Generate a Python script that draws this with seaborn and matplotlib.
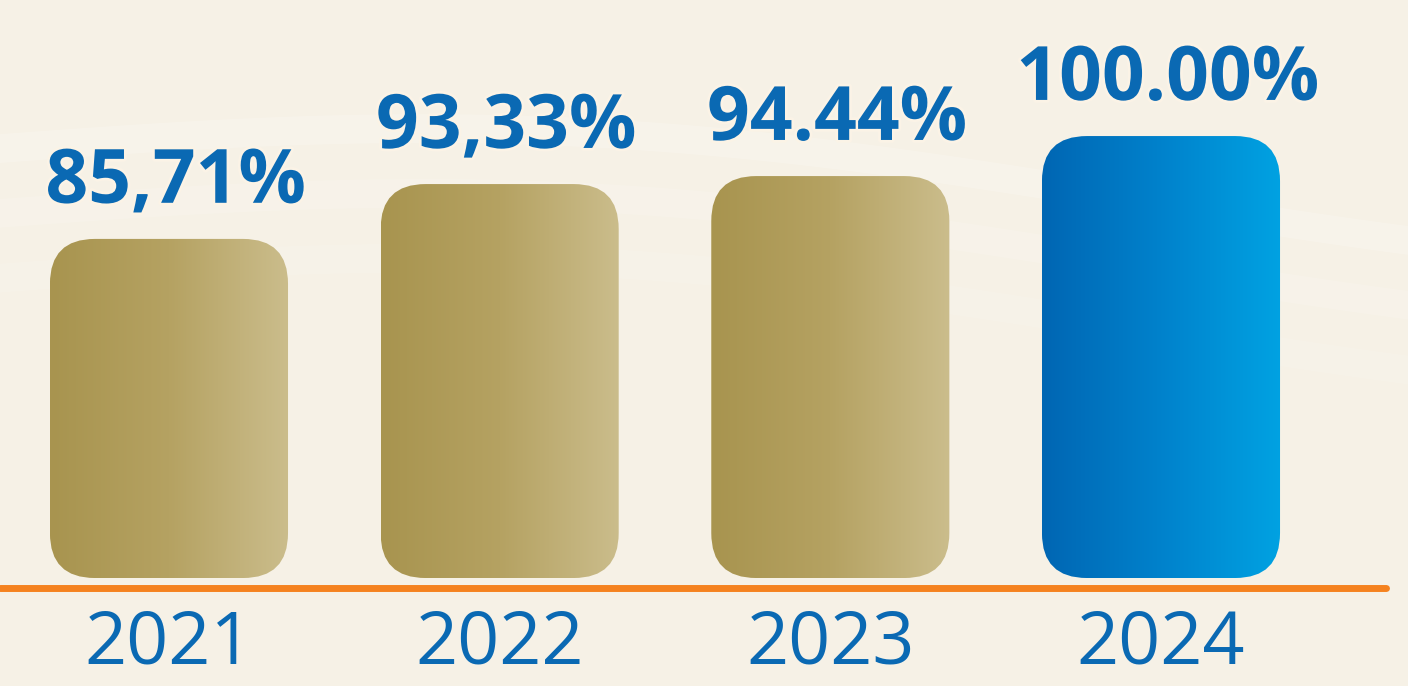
import numpy as np
import pandas as pd
import matplotlib
matplotlib.use("Agg")
import matplotlib.pyplot as plt
import matplotlib.patheffects as pe
from matplotlib.patches import FancyBboxPatch
from matplotlib.colors import LinearSegmentedColormap
import seaborn as sns

# dados
anos = ['2021', '2022', '2023', '2024']
valores = [85.71, 93.33, 94.44, 100.00]
rotulos = ['85,71%', '93,33%', '94.44%', '100.00%']

# cores
fundo = '#f6f1e6'
azul_txt = '#0a69b3'
laranja = '#f5821f'
cmap_ouro = LinearSegmentedColormap.from_list('ouro', ['#a8944f', '#b5a262', '#cbbd8c'])
cmap_azul = LinearSegmentedColormap.from_list('azul', ['#0066b3', '#0082cc', '#00a2e2'])

sns.set_theme(style='white')
plt.rcParams['font.family'] = ['Open Sans', 'DejaVu Sans']

fig = plt.figure(figsize=(14.08, 6.86), dpi=100, facecolor=fundo)
ax = fig.add_axes([0, 0, 1, 1])
ax.set_facecolor(fundo)

df = pd.DataFrame({'ano': anos, 'valor': valores})
sns.barplot(data=df, x='ano', y='valor', ax=ax, width=0.72, color='#b5a262')

# escala: base das barras fica acima do zero (como no original)
base = 38.6
ax.set_xlim(-0.511, 3.747)
ax.set_ylim(23.6, 118.9)
ax.axis('off')

# fundo com faixas suaves
xs = np.linspace(-0.511, 3.747, 200)
for off, a in [(0, 0.18), (9, 0.12), (18, 0.1)]:
    y1 = 95 - off + 6 * np.sin(xs * 0.9 + 0.5) - xs * 2
    ax.fill_between(xs, y1, y1 + 4, color='white', alpha=a, lw=0, zorder=0)

px_x = 1408 / (3.747 + 0.511)
px_y = 686 / (118.9 - 23.6)
aspect = px_x / px_y
raio = 45 / px_x

grad = np.linspace(0, 1, 256).reshape(1, -1)
barras = list(ax.patches)
for i, p in enumerate(barras):
    x0, w, h = p.get_x(), p.get_width(), p.get_height()
    p.remove()
    caixa = FancyBboxPatch((x0, base), w, h - base,
                           boxstyle=f'round,pad=0,rounding_size={raio}',
                           mutation_aspect=aspect, fc='none', ec='none', zorder=2)
    ax.add_patch(caixa)
    cm = cmap_azul if i == len(barras) - 1 else cmap_ouro
    im = ax.imshow(grad, cmap=cm, aspect='auto', extent=[x0, x0 + w, base, h],
                   zorder=2, interpolation='bicubic')
    im.set_clip_path(caixa)
    ax.annotate(rotulos[i], (x0 + w / 2 + 0.02, h), xytext=(0, 26), textcoords='offset points',
                ha='center', va='baseline', fontsize=54, fontweight='bold', color=azul_txt,
                zorder=3, path_effects=[pe.withStroke(linewidth=4, foreground='#fbf3e6')])
    ax.text(x0 + w / 2, 29.3, anos[i], ha='center', va='center', fontsize=53,
            color=azul_txt, zorder=3)

# linha laranja
ax.plot([-0.511, 3.68], [37.2, 37.2], color=laranja, lw=5, solid_capstyle='round', zorder=1)

fig.savefig('out.png', dpi=100, facecolor=fundo)
